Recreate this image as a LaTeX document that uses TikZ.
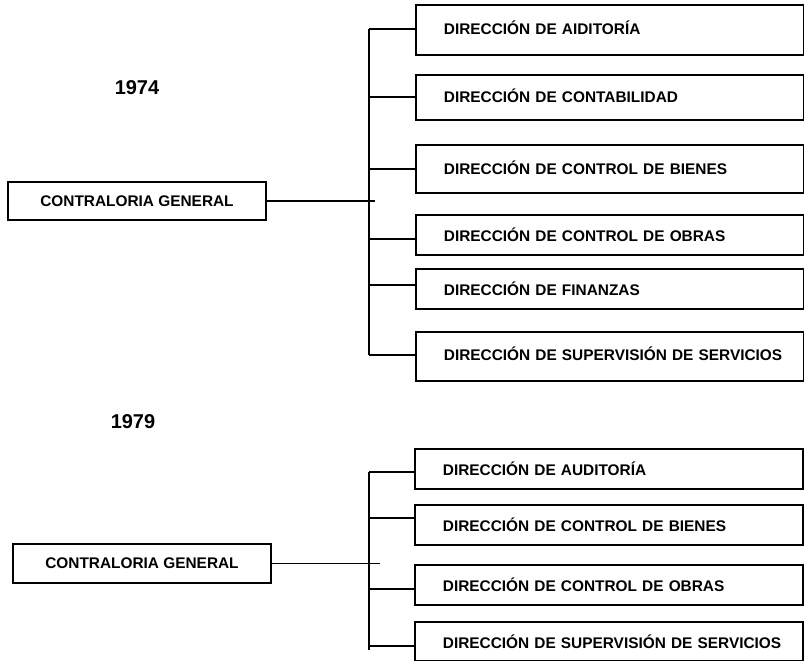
\documentclass[tikz,border=0pt]{standalone}
\usepackage{fontspec}
\setmainfont{Liberation Sans}
\begin{document}
\begin{tikzpicture}[x=1pt,y=-1pt,
  line width=1.8pt,
  lbl/.style={font=\fontsize{15.4}{18}\selectfont\bfseries},
  yearlbl/.style={font=\fontsize{20}{24}\selectfont\bfseries},
  cbox/.style={lbl, draw, line width=1.8pt, minimum width=258pt, inner sep=0pt},
  dirbox/.style={lbl, draw, line width=1.8pt, anchor=north west, inner xsep=0pt,
    inner ysep=0pt, minimum width=388pt, text width=388pt, align=left,
    execute at begin node={\hspace*{28pt}}},
  link/.style={line width=1.8pt},
  branch/.style={line width=1.4pt}]
\useasboundingbox (0,0) rectangle (804,661);

% ---------- 1974 ----------
\node[yearlbl] (y1) at (137,88) {1974};
\node[cbox, minimum height=38pt] (cg1) at (137,201) {CONTRALORIA GENERAL};
\coordinate (tr1) at (369,0);
\coordinate (tip1) at (375,0);

\node[dirbox, minimum height=50pt] (a1) at (415,4)   {DIRECCIÓN DE AIDITORÍA\vspace*{5pt}};
\node[dirbox, minimum height=45pt] (a2) at (415,74)  {DIRECCIÓN DE CONTABILIDAD\vspace*{3pt}};
\node[dirbox, minimum height=48pt] (a3) at (415,144) {DIRECCIÓN DE CONTROL DE BIENES\vspace*{3pt}};
\node[dirbox, minimum height=40pt] (a4) at (415,214) {DIRECCIÓN DE CONTROL DE OBRAS};
\node[dirbox, minimum height=40pt] (a5) at (415,268) {DIRECCIÓN DE FINANZAS};
\node[dirbox, minimum height=49pt] (a6) at (415,331) {DIRECCIÓN DE SUPERVISIÓN DE SERVICIOS\vspace*{5pt}};

\draw[link] (cg1.east) -- (cg1.east -| tip1);
\draw[link] ([yshift=1pt]a1.west -| tr1) -- ([yshift=1.5pt]a6.west -| tr1);
\draw[link] ([yshift=1pt]a1.west) -- ([yshift=1pt]a1.west -| tr1);
\draw[link] (a2.west) -- (a2.west -| tr1);
\draw[link] (a3.west) -- (a3.west -| tr1);
\draw[link] ([yshift=-4pt]a4.west) -- ([yshift=-4pt]a4.west -| tr1);
\draw[link] ([yshift=4pt]a5.west) -- ([yshift=4pt]a5.west -| tr1);
\draw[link] ([yshift=1.5pt]a6.west) -- ([yshift=1.5pt]a6.west -| tr1);

% ---------- 1979 ----------
\node[yearlbl] (y2) at (133,422) {1979};
\node[cbox, minimum height=39pt] (cg2) at (142,563.5) {CONTRALORIA GENERAL};
\coordinate (tr2) at (369,0);
\coordinate (tip2) at (380,0);
\coordinate (tend) at (369,650);

\node[dirbox, minimum height=40pt] (b1) at (414,448) {DIRECCIÓN DE AUDITORÍA};
\node[dirbox, minimum height=40pt] (b2) at (414,504) {DIRECCIÓN DE CONTROL DE BIENES};
\node[dirbox, minimum height=40pt] (b3) at (414,564) {DIRECCIÓN DE CONTROL DE OBRAS};
\node[dirbox, minimum height=39pt] (b4) at (414,621) {DIRECCIÓN DE SUPERVISIÓN DE SERVICIOS};

\draw[branch] (cg2.east) -- (cg2.east -| tip2);
\draw[link] ([yshift=-3pt]b1.west -| tr2) -- (tend);
\draw[link] ([yshift=-3pt]b1.west) -- ([yshift=-3pt]b1.west -| tr2);
\draw[branch] ([yshift=7pt]b2.west) -- ([yshift=7pt]b2.west -| tr2);
\draw[branch] ([yshift=-4pt]b3.west) -- ([yshift=-4pt]b3.west -| tr2);
\draw[link] ([yshift=-4.5pt]b4.west) -- ([yshift=-4.5pt]b4.west -| tr2);
\end{tikzpicture}
\end{document}
